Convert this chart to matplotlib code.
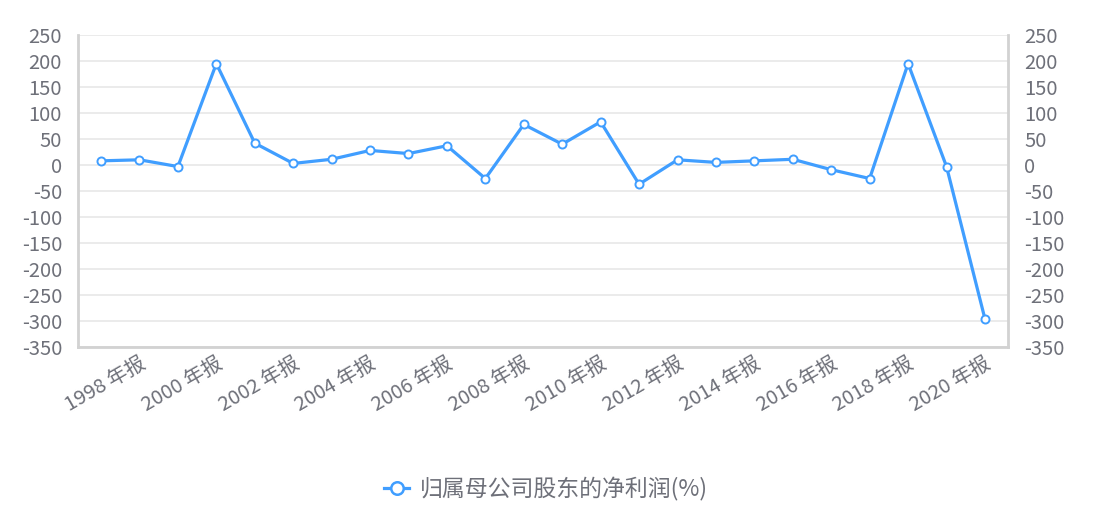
import matplotlib
matplotlib.use("Agg")
import matplotlib.pyplot as plt
from matplotlib.lines import Line2D
import matplotlib.transforms as mtransforms

plt.rcParams['font.family'] = ['Noto Sans CJK SC', 'DejaVu Sans']

years = list(range(1998, 2022))
categories = [f"{y} 年报" for y in years]
values = [8, 10, -3, 195, 42, 3, 11, 28, 22, 37, -26, 78,
          40, 83, -37, 10, 5, 8, 11, -9, -26, 195, -3, -296]
series_name = "归属母公司股东的净利润(%)"
y_ticks = list(range(-350, 251, 50))

LINE = "#409EFF"
TEXT = "#6e7079"
GRID = "#e9e9e9"
AXIS = "#d2d2d2"

W, H = 1095, 524
fig = plt.figure(figsize=(W / 100, H / 100), dpi=100)
L, R, T, B = 78, 1008, 35, 347
ax = fig.add_axes([L / W, 1 - B / H, (R - L) / W, (B - T) / H])

x = list(range(len(values)))
ax.plot(x, values, color=LINE, lw=2.3, marker='o', ms=5.8,
        mfc='white', mec=LINE, mew=1.4, zorder=3, clip_on=False)

ax.set_xlim(-0.6, len(values) - 1 + 0.6)
ax.set_ylim(-350, 250)
ax.set_yticks(y_ticks)
ax.set_yticklabels([str(v) for v in y_ticks])
ax.grid(axis='y', color=GRID, lw=1.3, zorder=0)
ax.set_axisbelow(True)

for s in ['left', 'right', 'bottom']:
    ax.spines[s].set_color(AXIS)
    ax.spines[s].set_linewidth(2)
ax.spines['top'].set_visible(False)

ax.tick_params(axis='y', length=0, pad=11.5, labelsize=14.5, labelcolor=TEXT,
               left=True, right=True, labelleft=True, labelright=True)
ax.set_xticks([])

trans = mtransforms.blended_transform_factory(ax.transData, fig.transFigure)
for i, lab in enumerate(categories):
    if i % 2 == 0:
        ax.text(i + 0.12, 1 - 385 / H, lab, transform=trans, rotation=30,
                ha='center', va='center', rotation_mode='anchor',
                fontsize=14.5, color=TEXT)

handle = Line2D([], [], color=LINE, lw=2.3, marker='o', ms=9,
                mfc='white', mec=LINE, mew=1.8)
fig.legend([handle], [series_name], loc='center',
           bbox_to_anchor=(546 / W, 1 - 489 / H), frameon=False,
           fontsize=16.5, labelcolor=TEXT, handlelength=1.1, handletextpad=0.45)

fig.savefig("out.png", dpi=100)
